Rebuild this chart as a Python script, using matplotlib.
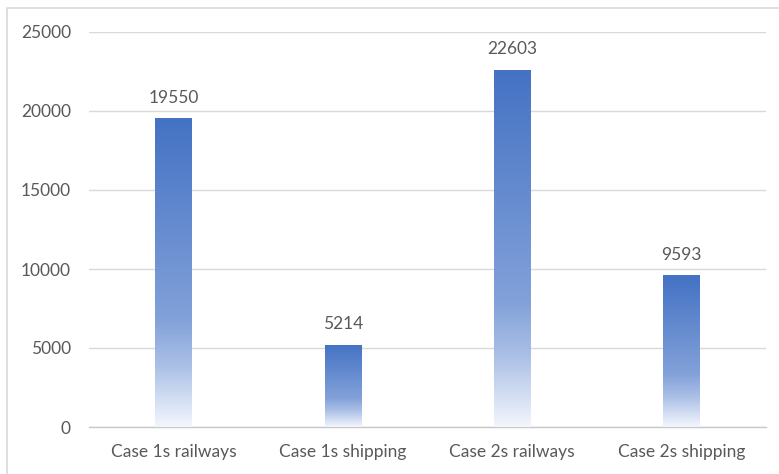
import numpy as np
import matplotlib.pyplot as plt
from matplotlib.colors import LinearSegmentedColormap
from matplotlib.patches import Rectangle

categories = ["Case 1s railways", "Case 1s shipping", "Case 2s railways", "Case 2s shipping"]
values = [19550, 5214, 22603, 9593]
yticks = [0, 5000, 10000, 15000, 20000, 25000]

plt.rcParams['font.family'] = ['Lato', 'DejaVu Sans']
text_color = "#595959"

fig = plt.figure(figsize=(7.79, 4.74), dpi=100)
ax = fig.add_axes([89 / 779, 1 - 427 / 474, (766 - 89) / 779, (427 - 32) / 474])

# Chart frame
fig.patches.append(Rectangle((7 / 779, -0.1), 1.2, 1 - 8 / 474 + 0.1, transform=fig.transFigure,
                             fill=False, edgecolor="#d9d9d9", linewidth=1.2, zorder=0))

# Vertical gradient: dark blue at top fading to near-white at the base
grad = LinearSegmentedColormap.from_list(
    "bar_grad",
    [(0.0, "#f3f6fc"), (0.2, "#aabfe6"), (0.35, "#82a1d9"), (1.0, "#4472c4")])
ramp = np.linspace(0, 1, 256).reshape(-1, 1)

x = np.arange(len(categories))
width = 0.215
bars = ax.bar(x, values, width=width, color="none", edgecolor="none", zorder=3)
for b in bars:
    x0, w, h = b.get_x(), b.get_width(), b.get_height()
    im = ax.imshow(ramp, cmap=grad, origin="lower", aspect="auto",
                   extent=[x0, x0 + w, 0, h], zorder=3)
    im.set_clip_path(b)

for xi, v in zip(x, values):
    ax.annotate(f"{v}", (xi, v), xytext=(0, 9), textcoords="offset points",
                ha="center", va="bottom", fontsize=12.5, color=text_color)

ax.set_xlim(-0.5, len(categories) - 0.5)
ax.set_ylim(0, 25000)
ax.set_yticks(yticks)
ax.set_yticklabels([str(t) for t in yticks])
ax.set_xticks(x)
ax.set_xticklabels(categories)
ax.tick_params(axis="both", length=0, labelsize=12.5, labelcolor=text_color)
ax.tick_params(axis="y", pad=13)
ax.tick_params(axis="x", pad=12)

ax.grid(axis="y", color="#d9d9d9", linewidth=1, zorder=0)
ax.set_axisbelow(True)
for s in ["top", "right", "left"]:
    ax.spines[s].set_visible(False)
ax.spines["bottom"].set_color("#c8c8c8")
ax.spines["bottom"].set_linewidth(1)

fig.savefig("out.png", dpi=100)
